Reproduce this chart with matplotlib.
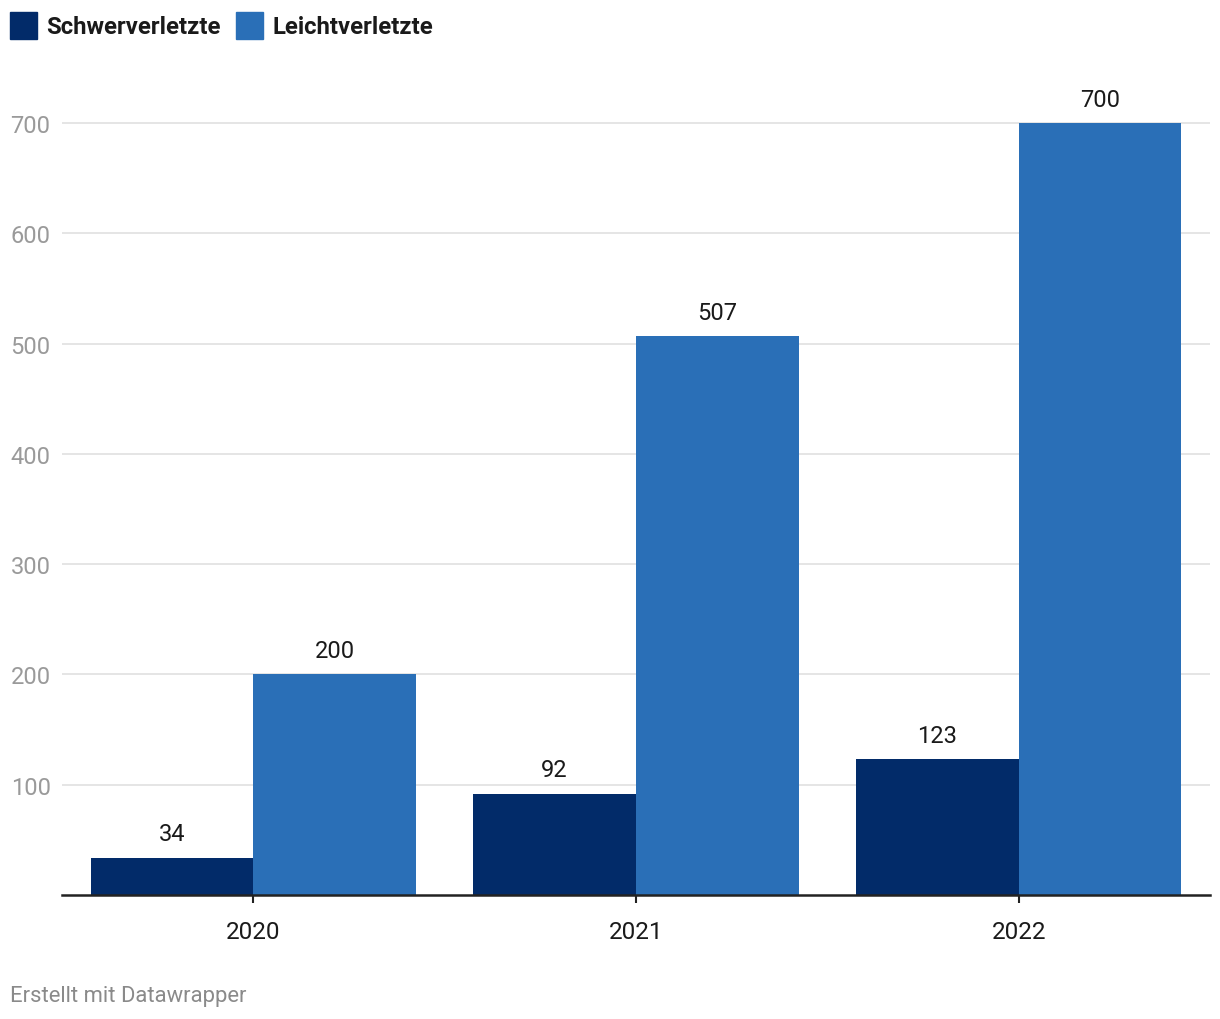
import matplotlib.pyplot as plt
import numpy as np

plt.rcParams['font.family'] = ['Roboto', 'DejaVu Sans']

jahre = ['2020', '2021', '2022']
schwer = [34, 92, 123]
leicht = [200, 507, 700]
yticks = [100, 200, 300, 400, 500, 600, 700]

c_schwer = '#022b69'
c_leicht = '#2a6fb7'

fig = plt.figure(figsize=(12.2, 10.2), dpi=100)
ax = fig.add_axes([62/1220, 1-896/1020, (1210-62)/1220, (896-80)/1020])

x = np.arange(len(jahre))
w = 0.425
b1 = ax.bar(x - w/2, schwer, w, color=c_schwer, zorder=3)
b2 = ax.bar(x + w/2, leicht, w, color=c_leicht, zorder=3)

for bars in (b1, b2):
    for r in bars:
        ax.annotate(str(int(r.get_height())), (r.get_x() + r.get_width()/2, r.get_height()),
                    xytext=(0, 17), textcoords='offset points', ha='center', va='center',
                    fontsize=17, color='#1a1a1a')

ax.set_xlim(-0.5, 2.5)
ax.set_ylim(0, 740)
ax.set_yticks(yticks)
ax.set_yticklabels([str(v) for v in yticks])
ax.set_xticks(x)
ax.set_xticklabels(jahre)
ax.grid(axis='y', color='#e0e0e0', linewidth=1.2, zorder=0)
for s in ['top', 'right', 'left']:
    ax.spines[s].set_visible(False)
ax.spines['bottom'].set_color('#222222')
ax.spines['bottom'].set_linewidth(1.8)
ax.spines['bottom'].set_zorder(4)
ax.tick_params(axis='y', length=0, pad=37, labelsize=17, labelcolor='#9a9a9a')
for lab in ax.get_yticklabels():
    lab.set_horizontalalignment('left')
ax.tick_params(axis='x', length=6, width=1.5, color='#222222', pad=12, labelsize=17.5,
               labelcolor='#1a1a1a')

# legend
fig.patches.append(plt.Rectangle((10/1220, 1-40/1020), 27/1220, 27/1020,
                                 transform=fig.transFigure, color=c_schwer))
fig.text(46/1220, 1-27/1020, 'Schwerverletzte', fontsize=17.2, fontweight='bold',
         color='#1a1a1a', va='center')
fig.patches.append(plt.Rectangle((236/1220, 1-40/1020), 27/1220, 27/1020,
                                 transform=fig.transFigure, color=c_leicht))
fig.text(273/1220, 1-27/1020, 'Leichtverletzte', fontsize=17.2, fontweight='bold',
         color='#1a1a1a', va='center')

fig.text(10/1220, 1-997/1020, 'Erstellt mit Datawrapper', fontsize=15.8, color='#8a8a8a',
         va='center')

fig.savefig('out.png', dpi=100, facecolor='white')
